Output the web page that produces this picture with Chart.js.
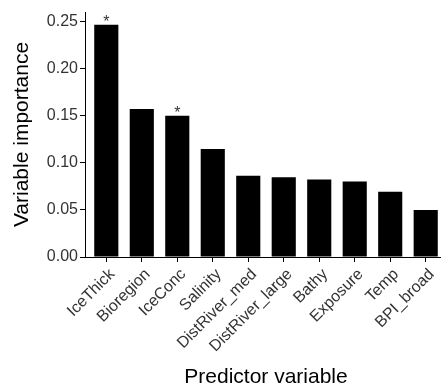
<!DOCTYPE html>
<html>
<head>
<meta charset="utf-8">
<script src="https://cdn.jsdelivr.net/npm/chart.js@4/dist/chart.umd.min.js"></script>
<style>
  html, body { margin: 0; padding: 0; background: #fff; overflow: hidden; }
  #wrap { width: 448px; height: 390px; position: relative; }
</style>
</head>
<body>
<div id="wrap"><canvas id="impChart"></canvas></div>
<script>
// ----------------- data -----------------
const predictors = ['IceThick','Bioregion','IceConc','Salinity','DistRiver_med','DistRiver_large','Bathy','Exposure','Temp','BPI_broad'];
const importance = [0.2465, 0.157, 0.150, 0.1147, 0.0861, 0.0847, 0.0823, 0.0801, 0.0692, 0.0498];
const significant = [true, false, true, false, false, false, false, false, false, false];
const yTicks = [0, 0.05, 0.10, 0.15, 0.20, 0.25];

const fontFam = '"Liberation Sans", Arial, sans-serif';

// asterisks above significant bars
const starPlugin = {
  id: 'stars',
  afterDatasetsDraw(chart){
    const {ctx, scales:{x, y}} = chart;
    ctx.save();
    ctx.fillStyle = '#333';
    ctx.font = '16px ' + fontFam;
    ctx.textAlign = 'center';
    ctx.textBaseline = 'alphabetic';
    significant.forEach((s, i) => {
      if(!s) return;
      ctx.fillText('*', x.getPixelForValue(i), y.getPixelForValue(importance[i]) + 2);
    });
    ctx.restore();
  }
};

const ctx = document.getElementById('impChart').getContext('2d');
new Chart(ctx, {
  type: 'bar',
  data: {
    datasets: [{
      data: importance.map((v, i) => ({x: i, y: v})),
      backgroundColor: '#000',
      borderColor: '#000',
      borderWidth: 0,
      barPercentage: 0.68,
      categoryPercentage: 1
    }]
  },
  options: {
    responsive: true,
    maintainAspectRatio: false,
    animation: false,
    layout: { padding: { top: 12, right: 1, left: 0, bottom: 0 } },
    plugins: { legend: { display: false }, tooltip: { enabled: false } },
    scales: {
      x: {
        type: 'linear',
        offset: false,
        min: -0.6,
        max: 9.6,
        afterBuildTicks: s => { s.ticks = predictors.map((_, i) => ({value: i})); },
        afterFit: s => { s.height = 133; },
        grid: { offset: false, drawOnChartArea: false, tickLength: 5, color: '#000', lineWidth: 1 },
        border: { color: '#000', width: 1 },
        ticks: {
          autoSkip: false,
          minRotation: 45,
          maxRotation: 45,
          padding: 3,
          labelOffset: 6,
          color: '#333',
          font: { family: fontFam, size: 16 },
          callback: v => predictors[v]
        },
        title: {
          display: true,
          text: 'Predictor variable',
          color: '#000',
          font: { family: fontFam, size: 21 },
          padding: { top: 3, bottom: 0 }
        }
      },
      y: {
        min: 0,
        max: 0.26,
        afterBuildTicks: s => { s.ticks = yTicks.map(v => ({value: v})); },
        afterFit: s => { s.width = 85; },
        grid: { drawOnChartArea: false, tickLength: 5, color: '#000', lineWidth: 1 },
        border: { color: '#000', width: 1 },
        ticks: {
          padding: 2,
          color: '#333',
          font: { family: fontFam, size: 16 },
          callback: v => v.toFixed(2)
        },
        title: {
          display: true,
          text: 'Variable importance',
          color: '#000',
          font: { family: fontFam, size: 21 },
          padding: { top: 10, bottom: 0 }
        }
      }
    }
  },
  plugins: [starPlugin]
});
</script>
</body>
</html>
